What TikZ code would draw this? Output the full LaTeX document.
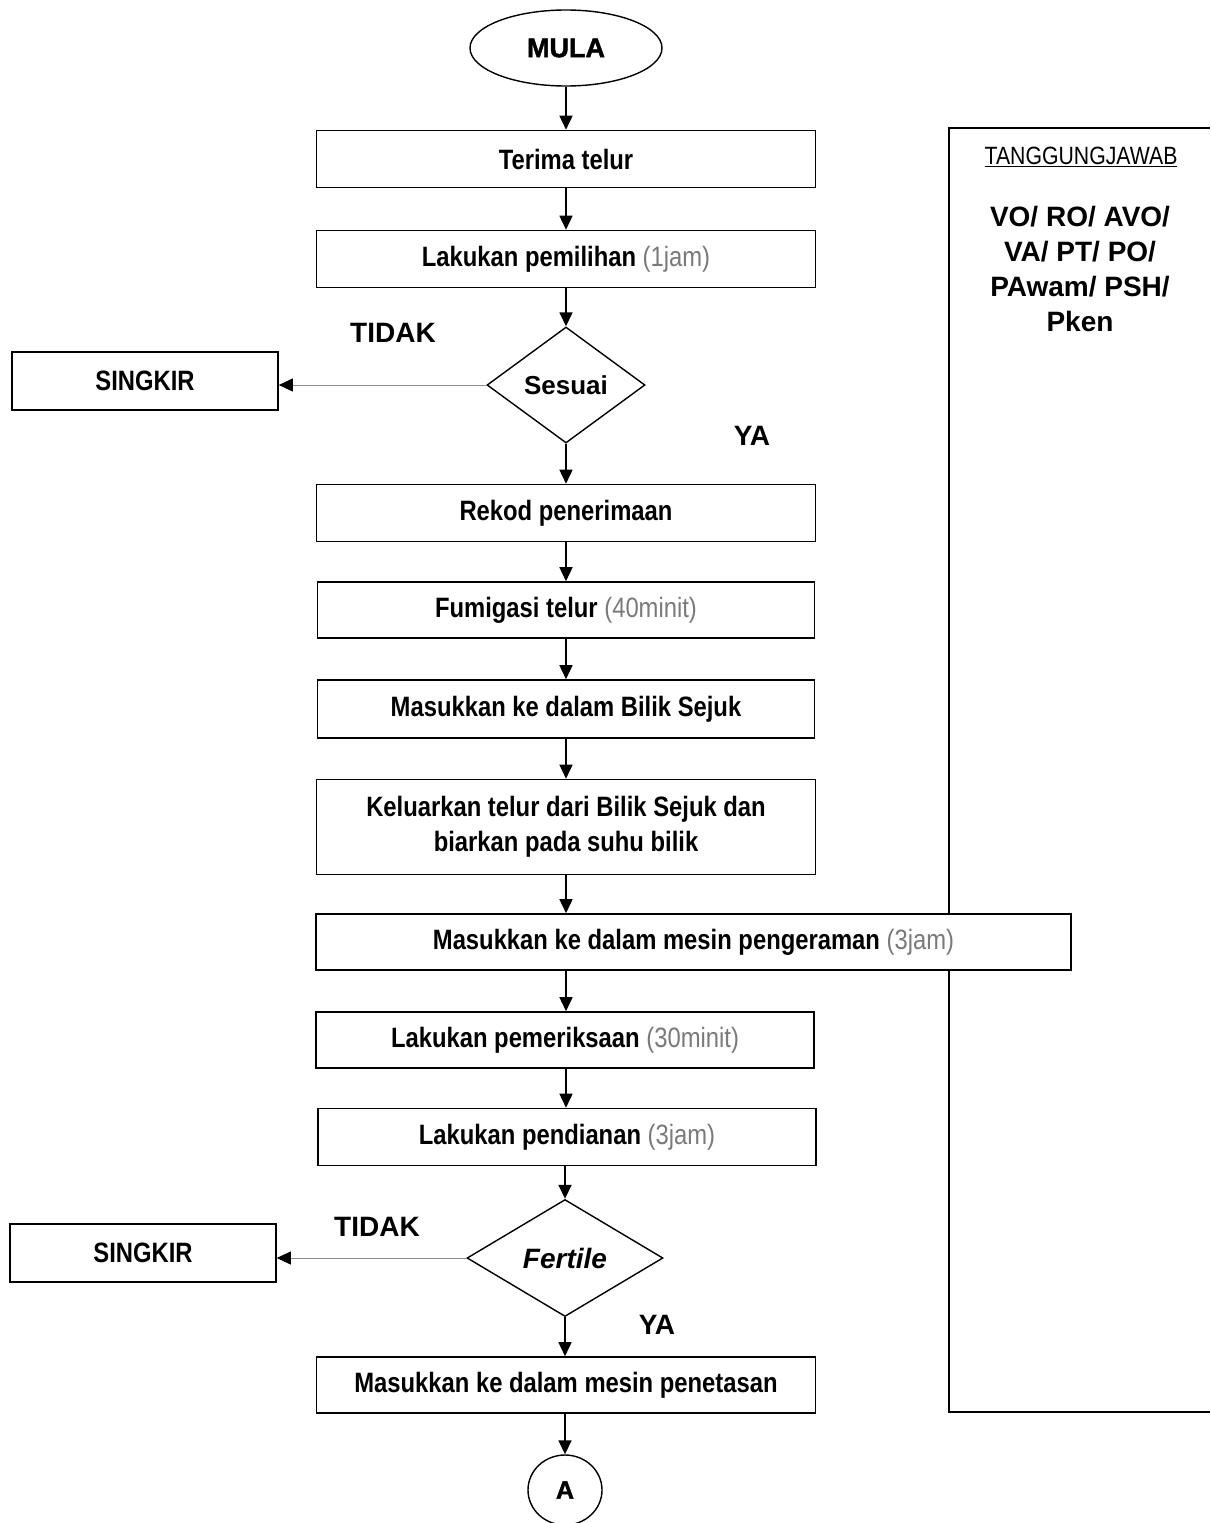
\documentclass[tikz,border=0pt]{standalone}
\usepackage{fontspec}
\setmainfont{Liberation Sans}
\newfontfamily\nar[FakeStretch=0.85]{Liberation Sans}
\newfontfamily\heavy[BoldFeatures={FakeBold=1.6}]{Liberation Sans}
\usetikzlibrary{shapes.geometric,arrows.meta}
\definecolor{dim}{HTML}{7A7A7A}
\newcommand\tmx[1]{{\color{dim}\mdseries #1}}
\tikzset{
  bx/.style={draw, line width=1.6pt, fill=white, rectangle, inner sep=0pt, align=center,
    font=\nar\bfseries\fontsize{28}{35}\selectfont, minimum width=499pt, minimum height=57pt},
  dia/.style={draw, line width=1.4pt, diamond, inner sep=0pt, fill=white},
  lbl/.style={font=\bfseries\fontsize{28}{34}\selectfont, inner sep=0pt},
  arr/.style={line width=1.6pt, -{Triangle[width=13pt,length=14pt]}},
  thinarr/.style={line width=0.8pt, draw=black!45, -{Triangle[width=13pt,length=14pt,color=black,fill=black]}}
}
\begin{document}
\begin{tikzpicture}[x=1pt,y=-1pt]
\useasboundingbox (0,0) rectangle (1210,1523);
% right responsibility panel
\draw[line width=1.4pt] (1210,128) -- (949,128) -- (949,1412) -- (1210,1412);
\node[inner sep=0pt, font=\nar\fontsize{25}{30}\selectfont] (tj) at (1081,157) {\underline{TANGGUNGJAWAB}};
\node[lbl, align=center, font=\bfseries\fontsize{28}{35}\selectfont] (who) at (1080,269)
  {VO/ RO/ AVO/\\VA/ PT/ PO/\\PAwam/ PSH/\\Pken};
% flow
\node[draw, line width=1.4pt, ellipse, minimum width=192pt, minimum height=76pt, inner sep=0pt,
  font=\heavy\bfseries\fontsize{27}{34}\selectfont] (mula) at (566,48) {MULA};
\node[bx] (terima) at (566,159) {Terima telur};
\node[bx] (pilih) at (566,259) {Lakukan pemilihan \tmx{(1jam)}};
\node[dia, minimum width=158pt, minimum height=116pt, font=\bfseries\fontsize{26}{30}\selectfont] (sesuai) at (566,385) {Sesuai};
\node[bx, minimum width=266pt, minimum height=58pt] (sing1) at (145,381) {SINGKIR};
\node[bx] (rekod) at (566,513) {Rekod penerimaan};
\node[bx, minimum width=497pt, minimum height=56pt] (fumi) at (566,610) {Fumigasi telur \tmx{(40minit)}};
\node[bx, minimum width=497pt, minimum height=58pt] (bilik) at (566,709) {Masukkan ke dalam Bilik Sejuk};
\node[bx, minimum height=95pt] (keluar) at (566,827) {Keluarkan telur dari Bilik Sejuk dan\\biarkan pada suhu bilik};
\node[bx, minimum width=755pt, minimum height=56pt] (geram) at (693.5,942) {Masukkan ke dalam mesin pengeraman \tmx{(3jam)}};
\node[bx, minimum width=498pt, minimum height=56pt] (periksa) at (565,1040) {Lakukan pemeriksaan \tmx{(30minit)}};
\node[bx, minimum width=498pt] (dian) at (567,1137) {Lakukan pendianan \tmx{(3jam)}};
\node[dia, minimum width=196pt, minimum height=117pt, font=\bfseries\itshape\fontsize{28}{32}\selectfont] (fert) at (565,1258) {Fertile};
\node[bx, minimum width=266pt, minimum height=58pt] (sing2) at (143,1253) {SINGKIR};
\node[bx, minimum height=56pt] (tetas) at (566,1385) {Masukkan ke dalam mesin penetasan};
\node[draw, line width=1.4pt, ellipse, minimum width=74pt, minimum height=70pt, inner sep=0pt,
  font=\heavy\bfseries\fontsize{25}{28}\selectfont] (A) at (565,1490) {A};
% labels
\node[lbl] (t1) at (393,333) {TIDAK};
\node[lbl] (y1) at (752,436) {YA};
\node[lbl] (t2) at (377,1227) {TIDAK};
\node[lbl] (y2) at (657,1325) {YA};
% connectors
\draw[arr] (mula) -- (terima);
\draw[arr] (terima) -- (pilih);
\draw[arr] (pilih.south -| sesuai.north) -- (sesuai.north);
\draw[thinarr] (sesuai.west) -- (sesuai.west -| sing1.east);
\draw[arr] (sesuai.south) -- (sesuai.south |- rekod.north);
\draw[arr] (rekod) -- (fumi);
\draw[arr] (fumi) -- (bilik);
\draw[arr] (bilik) -- (keluar);
\draw[arr] (keluar.south) -- (keluar.south |- geram.north);
\draw[arr] (geram.south -| keluar.south) -- (periksa.north -| keluar.south);
\draw[arr] (periksa.south -| keluar.south) -- (dian.north -| keluar.south);
\draw[arr] (dian.south -| fert.north) -- (fert.north);
\draw[thinarr] (fert.west) -- (fert.west -| sing2.east);
\draw[arr] (fert.south) -- (fert.south |- tetas.north);
\draw[arr] (tetas.south -| A.north) -- (A.north);
\end{tikzpicture}
\end{document}
